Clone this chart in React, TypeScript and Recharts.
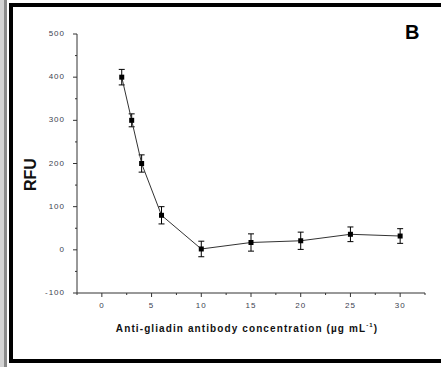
import { CartesianGrid, ErrorBar, Label, Line, LineChart, XAxis, YAxis } from "recharts";

const concentrations = [2, 3, 4, 6, 10, 15, 20, 25, 30];
const rfu = [400, 300, 200, 80, 2, 17, 21, 36, 32];
const rfuError = [18, 15, 20, 20, 18, 20, 20, 17, 17];

const xTicks = [-2.5, 0, 2.5, 5, 7.5, 10, 12.5, 15, 17.5, 20, 22.5, 25, 27.5, 30, 32.5];
const yTicks = [-100, -50, 0, 50, 100, 150, 200, 250, 300, 350, 400, 450, 500];

const data = concentrations.map((c, i) => ({ c, rfu: rfu[i], err: rfuError[i] }));

const FONT = "Arial, 'Liberation Sans', sans-serif";
const AXIS = "#333";

function XTick({ x, y, payload }: any) {
  const v = payload.value;
  const major = v % 5 === 0;
  return (
    <g>
      <line x1={x} x2={x} y1={y} y2={y + (major ? 4 : 2)} stroke={AXIS} />
      {major && v >= 0 && v <= 30 && (
        <text x={x} y={y + 13} textAnchor="middle" dominantBaseline="middle" fontSize={8} letterSpacing={1} fill="#3c4250" fontFamily={FONT}>
          {v}
        </text>
      )}
    </g>
  );
}

function YTick({ x, y, payload }: any) {
  const v = payload.value;
  const major = v % 100 === 0;
  return (
    <g>
      <line x1={x} x2={x - (major ? 4 : 2)} y1={y} y2={y} stroke={AXIS} />
      {major && (
        <text x={x - 12} y={y} textAnchor="end" dominantBaseline="middle" fontSize={8} letterSpacing={1} fill="#3c4250" fontFamily={FONT}>
          {v}
        </text>
      )}
    </g>
  );
}

function Square({ cx, cy, index }: any) {
  return <rect key={index} x={cx - 2.5} y={cy - 2.5} width={5} height={5} fill="#000" />;
}

export default function App() {
  return (
    <div style={{ position: "absolute", left: 0, top: 0, width: 441, height: 367, background: "#fff", overflow: "hidden" }}>
      <div style={{ position: "absolute", left: 0, top: 0, width: 4, height: 367, background: "#d4d4d4" }} />
      <div style={{ position: "absolute", left: 4, top: 0, width: 3, height: 367, background: "#8a8a8a" }} />
      <div
        style={{
          position: "absolute",
          left: 9,
          top: 3,
          width: 432,
          height: 360,
          borderTop: "4px solid #000",
          borderLeft: "4px solid #000",
          borderBottom: "4px solid #000",
          boxSizing: "border-box",
        }}
      />
      <div
        style={{ position: "absolute", left: 405, top: 22, fontFamily: FONT, fontWeight: "bold", fontSize: 20, lineHeight: "20px", color: "#000" }}
      >
        B
      </div>
      <div style={{ position: "absolute", left: 0, top: 0 }}>
        <LineChart width={441} height={367} data={data} margin={{ top: 34, right: 16, bottom: 44, left: 0 }}>
          <CartesianGrid stroke="none" />
          <XAxis
            type="number"
            dataKey="c"
            domain={[-2.5, 32.5]}
            ticks={xTicks}
            interval={0}
            height={30}
            tickSize={0}
            tickMargin={0}
            tickLine={false}
            tick={<XTick />}
            stroke={AXIS}
          >
            <Label
              content={({ viewBox }: any) => (
                <text
                  x={viewBox.x + viewBox.width / 2 - 4}
                  y={viewBox.y + 36}
                  textAnchor="middle"
                  dominantBaseline="middle"
                  fontFamily={FONT}
                  fontWeight="bold"
                  fontSize={10}
                  letterSpacing={1.1}
                  fill="#111"
                >
                  <tspan>Anti-gliadin antibody concentration (µg mL</tspan>
                  <tspan dy={-4} fontSize={6}>-1</tspan>
                  <tspan dy={4}>)</tspan>
                </text>
              )}
            />
          </XAxis>
          <YAxis
            type="number"
            domain={[-100, 500]}
            ticks={yTicks}
            interval={0}
            width={77}
            tickSize={0}
            tickMargin={0}
            tickLine={false}
            tick={<YTick />}
            stroke={AXIS}
          >
            <Label
              content={({ viewBox }: any) => {
                const cx = 32;
                const cy = viewBox.y + viewBox.height / 2 + 11;
                return (
                  <text
                    x={cx}
                    y={cy}
                    transform={`rotate(-90 ${cx} ${cy})`}
                    textAnchor="middle"
                    dominantBaseline="middle"
                    fontFamily={FONT}
                    fontWeight="bold"
                    fontSize={16}
                    fill="#111"
                  >
                    RFU
                  </text>
                );
              }}
            />
          </YAxis>
          <Line
            type="linear"
            dataKey="rfu"
            stroke="#333"
            strokeWidth={1}
            dot={<Square />}
            activeDot={false}
            isAnimationActive={false}
          >
            <ErrorBar dataKey="err" width={3} stroke="#000" strokeWidth={1} direction="y" isAnimationActive={false} />
          </Line>
        </LineChart>
      </div>
    </div>
  );
}
